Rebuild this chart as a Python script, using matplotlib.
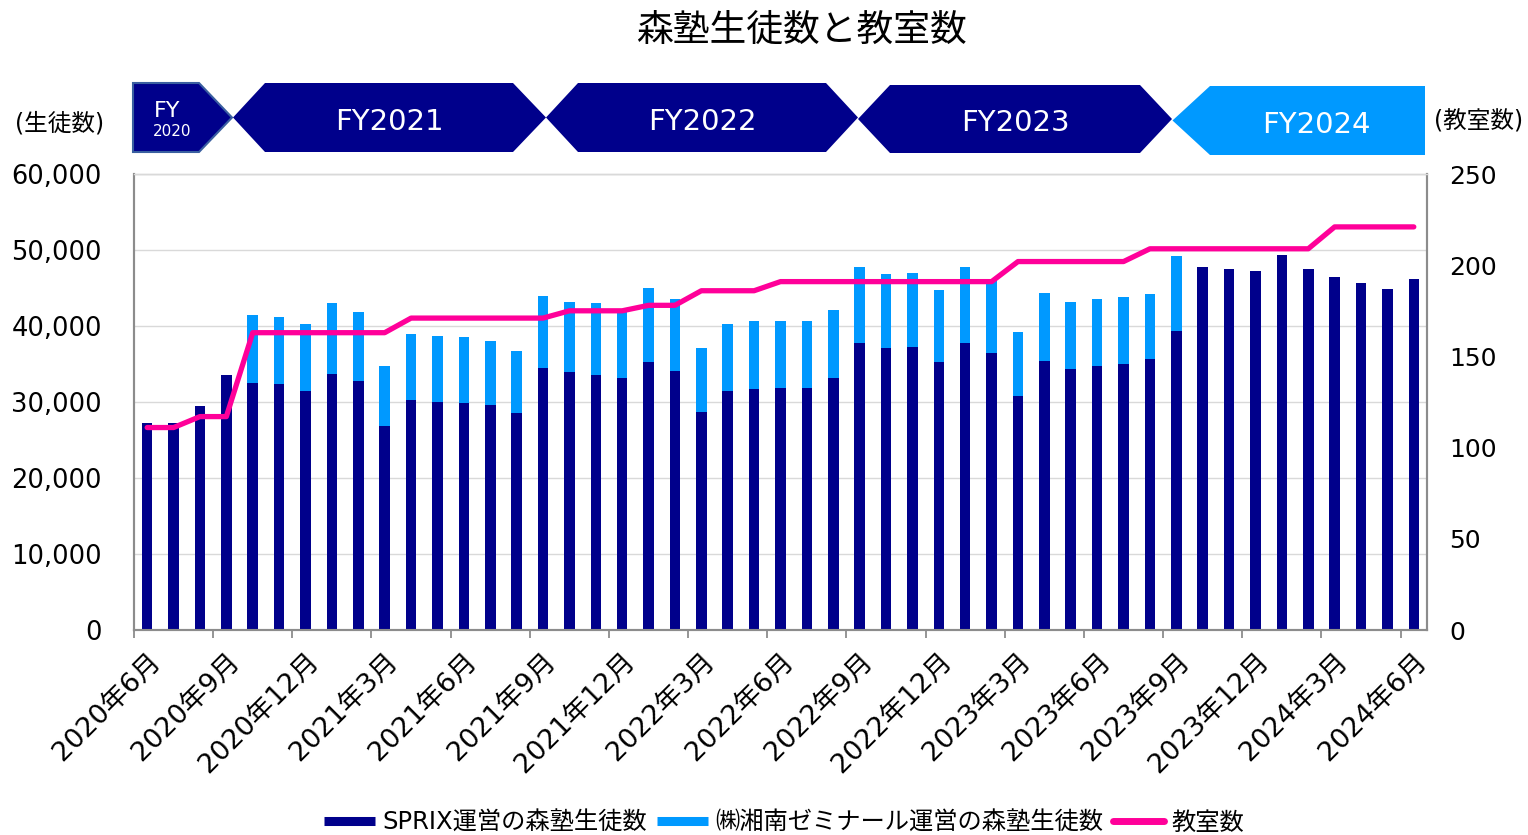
import matplotlib
matplotlib.use('Agg')
import matplotlib.pyplot as plt
from matplotlib.patches import Polygon
from matplotlib.lines import Line2D
from matplotlib.ticker import FuncFormatter, FixedLocator

plt.rcParams['font.family'] = ['DejaVu Sans', 'Noto Sans CJK JP']

# ---------------- data ----------------
tick_labels = ['2020年6月', '2020年9月', '2020年12月', '2021年3月', '2021年6月', '2021年9月',
               '2021年12月', '2022年3月', '2022年6月', '2022年9月', '2022年12月', '2023年3月',
               '2023年6月', '2023年9月', '2023年12月', '2024年3月', '2024年6月']

sprix = [27300, 27300, 29500, 33500, 32500, 32400, 31500, 33700, 32800, 26800,
         30300, 30000, 29900, 29600, 28500, 34500, 34000, 33600, 33100, 35300,
         34100, 28700, 31400, 31700, 31800, 31800, 33200, 37700, 37100, 37300,
         35300, 37800, 36400, 30800, 35400, 34300, 34800, 35000, 35600, 39300,
         47800, 47500, 47300, 49300, 47500, 46500, 45700, 44900, 46200]

shonan = [0, 0, 0, 0, 8900, 8800, 8700, 9300, 9100, 7900,
          8600, 8700, 8700, 8400, 8200, 9400, 9200, 9400, 8900, 9700,
          9400, 8400, 8900, 8900, 8900, 8800, 8900, 10100, 9700, 9700,
          9500, 9900, 9600, 8400, 9000, 8800, 8800, 8800, 8600, 9900,
          0, 0, 0, 0, 0, 0, 0, 0, 0]

rooms = [111, 111, 117, 117, 163, 163, 163, 163, 163, 163,
         171, 171, 171, 171, 171, 171, 175, 175, 175, 178,
         178, 186, 186, 186, 191, 191, 191, 191, 191, 191,
         191, 191, 191, 202, 202, 202, 202, 202, 209, 209,
         209, 209, 209, 209, 209, 221, 221, 221, 221]

fy_labels = ['FY2021', 'FY2022', 'FY2023', 'FY2024']

series_names = ['SPRIX運営の森塾生徒数', '㈱湘南ゼミナール運営の森塾生徒数', '教室数']

NAVY = '#00008B'
LIGHT = '#0099FF'
PINK = '#FF0099'
GRID = '#D9D9D9'
SPINE = '#8C8C8C'

W, H = 1528, 835
fig = plt.figure(figsize=(W / 100, H / 100), dpi=100)

ax = fig.add_axes([134 / W, 1 - 630 / H, (1427 - 134) / W, (630 - 174) / H])
x = list(range(len(sprix)))
ax.bar(x, sprix, width=0.4, color=NAVY, zorder=3)
ax.bar(x, shonan, width=0.4, bottom=sprix, color=LIGHT, zorder=3)
ax.set_xlim(-0.5, len(sprix) - 0.5)
ax.set_ylim(0, 60000)
ax.yaxis.set_major_locator(FixedLocator(list(range(0, 60001, 10000))))
ax.yaxis.set_major_formatter(FuncFormatter(lambda v, p: f'{int(v):,}'))
ax.grid(axis='y', color=GRID, lw=1, zorder=0)
ax.set_axisbelow(True)
ax.tick_params(axis='y', length=0, pad=23, labelsize=18.5)

label_pos = list(range(0, len(sprix), 3))
ax.set_xticks(label_pos)
ax.set_xticklabels(tick_labels, rotation=45, ha='right', va='top',
                   rotation_mode='anchor', fontsize=19.5)
ax.set_xticks([p - 0.5 for p in label_pos], minor=True)
ax.tick_params(axis='x', which='major', length=0, pad=13)
ax.tick_params(axis='x', which='minor', length=6, color=SPINE, width=1.3)

for s in ['left', 'bottom', 'right']:
    ax.spines[s].set_color(SPINE)
    ax.spines[s].set_linewidth(1.5)
ax.spines['top'].set_color(GRID)
ax.spines['top'].set_linewidth(1)

ax2 = ax.twinx()
ax2.plot(x, rooms, color=PINK, lw=3.8, solid_capstyle='round',
         solid_joinstyle='round', zorder=4)
ax2.set_ylim(0, 250)
ax2.yaxis.set_major_locator(FixedLocator(list(range(0, 251, 50))))
ax2.tick_params(axis='y', length=0, pad=16, labelsize=18)
for s in ['left', 'bottom', 'right']:
    ax2.spines[s].set_color(SPINE)
    ax2.spines[s].set_linewidth(1.5)
ax2.spines['top'].set_color(GRID)
ax2.spines['top'].set_linewidth(1)

# ---------------- overlay (title, units, FY banner) ----------------
ov = fig.add_axes([0, 0, 1, 1])
ov.set_xlim(0, W)
ov.set_ylim(H, 0)
ov.axis('off')

ov.text(801, 30, '森塾生徒数と教室数', ha='center', va='center', fontsize=26.5,
        family=['Noto Sans CJK JP'])
ov.text(60, 123, '(生徒数)', ha='center', va='center', fontsize=17)
ov.text(1479, 121, '(教室数)', ha='center', va='center', fontsize=17)

# FY2020 pentagon
ov.add_patch(Polygon([(133, 83), (199, 83), (232, 117.5), (199, 152), (133, 152)],
                     closed=True, facecolor=NAVY, edgecolor='#3A5FA0', lw=1.5))
ov.text(167, 111, 'FY', color='white', ha='center', va='center', fontsize=16)
ov.text(172, 131, '2020', color='white', ha='center', va='center', fontsize=11)

hexes = [(233, 265, 513, 546, 83, 152), (546, 578, 826, 858, 83, 152),
         (858, 890, 1140, 1172, 85, 153)]
for (xl, xtl, xtr, xr, yt, yb), lab in zip(hexes, fy_labels[:3]):
    ym = (yt + yb) / 2
    ov.add_patch(Polygon([(xl, ym), (xtl, yt), (xtr, yt), (xr, ym), (xtr, yb), (xtl, yb)],
                         closed=True, facecolor=NAVY, edgecolor='none'))
    ov.text((xl + xr) / 2, ym + 4, lab, color='white', ha='center', va='center', fontsize=21)

ov.add_patch(Polygon([(1172.5, 120.5), (1210, 86), (1425, 86), (1425, 155), (1210, 155)],
                     closed=True, facecolor=LIGHT, edgecolor='none'))
ov.text(1316, 125, fy_labels[3], color='white', ha='center', va='center', fontsize=21)

# ---------------- legend ----------------
handles = [Line2D([0], [0], color=NAVY, lw=6.5, solid_capstyle='butt'),
           Line2D([0], [0], color=LIGHT, lw=6.5, solid_capstyle='butt'),
           Line2D([0], [0], color=PINK, lw=5, solid_capstyle='round')]
fig.legend(handles, series_names, loc='center', bbox_to_anchor=(784 / W, 1 - 823 / H),
           ncol=3, frameon=False, fontsize=17.5, handlelength=2.1, handletextpad=0.3,
           columnspacing=0.4, borderpad=0, borderaxespad=0)

fig.savefig('out.png', dpi=100)
